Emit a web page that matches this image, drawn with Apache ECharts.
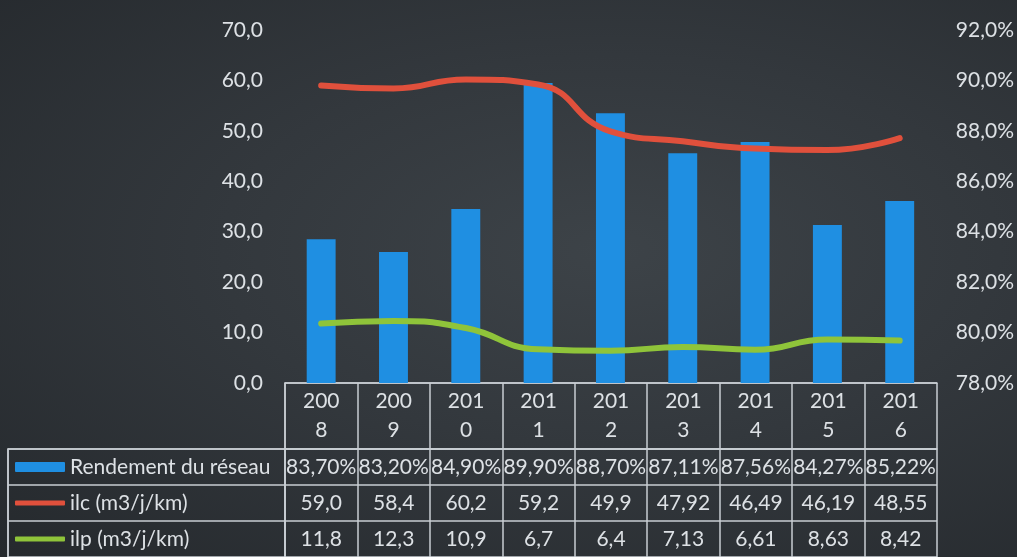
<!DOCTYPE html>
<html>
<head>
<meta charset="utf-8">
<script src="https://cdn.jsdelivr.net/npm/echarts@6/dist/echarts.min.js"></script>
<style>
  html, body { margin: 0; padding: 0; }
  body {
    width: 1017px; height: 557px; overflow: hidden;
    background: radial-gradient(ellipse at 60% 45%, #3d4348 0%, #33383d 45%, #25292d 100%);
  }
  #chart { width: 1017px; height: 557px; }
</style>
</head>
<body>
<div id="chart"></div>
<script>
// données
const years = ['2008', '2009', '2010', '2011', '2012', '2013', '2014', '2015', '2016']
const rendement = [83.70, 83.20, 84.90, 89.90, 88.70, 87.11, 87.56, 84.27, 85.22]
const ilc = [59.0, 58.4, 60.2, 59.2, 49.9, 47.92, 46.49, 46.19, 48.55]
const ilp = [11.8, 12.3, 10.9, 6.7, 6.4, 7.13, 6.61, 8.63, 8.42]
const rowNames = ['Rendement du réseau', 'ilc (m3/j/km)', 'ilp (m3/j/km)']

const TXT = '#dde1e5'
const LINE = '#c9ced3'
const FONT = 'Lato, "Open Sans", sans-serif'
const FS = 21
const C_BAR = '#1f8fe2', C_ILC = '#e0503c', C_ILP = '#8fc43a'

const TOP = 30, PLOT_BOTTOM = 383, HEAD_H = 66, ROW_H = 37.6

function fr(n, d) { return n.toFixed(d).replace('.', ',') }
function frAuto(n) { return fr(n, Math.round(n * 100) % 10 !== 0 ? 2 : 1) }

// cellules du tableau : [colonne, ligne, texte]
const headCells = years.map((y, i) => [i, 0, y.slice(0, 3) + '\n' + y.slice(3)])
const cells = []
years.forEach((y, i) => {
  cells.push([i, 0, fr(rendement[i], 2) + '%'])
  cells.push([i, 1, frAuto(ilc[i])])
  cells.push([i, 2, frAuto(ilp[i])])
})
const labelCells = rowNames.map((n, i) => [0, i, n])

const chart = echarts.init(document.getElementById('chart'))

const border = { show: true, lineStyle: { color: LINE, width: 1.5 } }
function tableX(grid, data) {
  return {
    type: 'category', gridIndex: grid, data: data, position: 'top',
    axisLine: border, axisTick: { show: false }, axisLabel: { show: false }, splitLine: border
  }
}
function tableY(grid, data) {
  return {
    type: 'category', gridIndex: grid, data: data, inverse: true,
    axisLine: border, axisTick: { show: false }, axisLabel: { show: false }, splitLine: border
  }
}
function textItem(list, off) {
  return (params, api) => {
    const p = api.coord([api.value(0), api.value(1)])
    return {
      type: 'text', x: p[0], y: p[1] + off,
      style: {
        text: list[params.dataIndex][2], fill: TXT, lineHeight: 29,
        font: FS + 'px ' + FONT, align: 'center', verticalAlign: 'middle'
      }
    }
  }
}

const option = {
  backgroundColor: 'transparent',
  animation: false,
  textStyle: { fontFamily: FONT },
  grid: [
    { left: 285, right: 80, top: TOP, height: PLOT_BOTTOM - TOP },
    { left: 285, right: 80, top: PLOT_BOTTOM, height: HEAD_H },
    { left: 285, right: 80, top: PLOT_BOTTOM + HEAD_H, height: ROW_H * 3 },
    { left: 8, width: 277, top: PLOT_BOTTOM + HEAD_H, height: ROW_H * 3 }
  ],
  xAxis: [
    { type: 'category', gridIndex: 0, data: years, show: false },
    tableX(1, years),
    tableX(2, years),
    tableX(3, ['n'])
  ],
  yAxis: [
    {
      type: 'value', gridIndex: 0, min: 0, max: 70, interval: 10,
      axisLine: { show: false }, axisTick: { show: false }, splitLine: { show: false },
      axisLabel: { color: TXT, fontSize: FS, margin: 22, formatter: v => fr(v, 1) }
    },
    {
      type: 'value', gridIndex: 0, min: 78, max: 92, interval: 2, position: 'right',
      axisLine: { show: false }, axisTick: { show: false }, splitLine: { show: false },
      axisLabel: { color: TXT, fontSize: FS, margin: 20, formatter: v => fr(v, 1) + '%' }
    },
    tableY(1, ['h']),
    tableY(2, ['r', 'c', 'p']),
    tableY(3, ['r', 'c', 'p'])
  ],
  series: [
    {
      name: 'Rendement du réseau', type: 'bar', xAxisIndex: 0, yAxisIndex: 1,
      data: rendement, barWidth: '40%', itemStyle: { color: C_BAR }
    },
    {
      name: 'ilc (m3/j/km)', type: 'line', xAxisIndex: 0, yAxisIndex: 0,
      data: ilc, smooth: true, symbol: 'none',
      lineStyle: { color: C_ILC, width: 6, cap: 'round' }
    },
    {
      name: 'ilp (m3/j/km)', type: 'line', xAxisIndex: 0, yAxisIndex: 0,
      data: ilp, smooth: true, symbol: 'none',
      lineStyle: { color: C_ILP, width: 6, cap: 'round' }
    },
    {
      type: 'custom', xAxisIndex: 1, yAxisIndex: 2, data: headCells, silent: true,
      renderItem: textItem(headCells, 0)
    },
    {
      type: 'custom', xAxisIndex: 2, yAxisIndex: 3, data: cells, silent: true,
      renderItem: textItem(cells, 0)
    },
    {
      type: 'custom', xAxisIndex: 3, yAxisIndex: 4, data: labelCells, silent: true,
      renderItem: (params, api) => {
        const p = api.coord([0, api.value(1)])
        const left = p[0] - 277 / 2
        const i = params.dataIndex
        const keyH = i === 0 ? 10 : 5
        const col = [C_BAR, C_ILC, C_ILP][i]
        return {
          type: 'group',
          children: [
            { type: 'rect', shape: { x: left + 7, y: p[1] - keyH / 2, width: 50, height: keyH, r: 1 }, style: { fill: col } },
            {
              type: 'text', x: left + 62, y: p[1],
              style: {
                text: labelCells[i][2], fill: TXT,
                font: FS + 'px ' + FONT, align: 'left', verticalAlign: 'middle'
              }
            }
          ]
        }
      }
    }
  ]
}

chart.setOption(option)
</script>
</body>
</html>
